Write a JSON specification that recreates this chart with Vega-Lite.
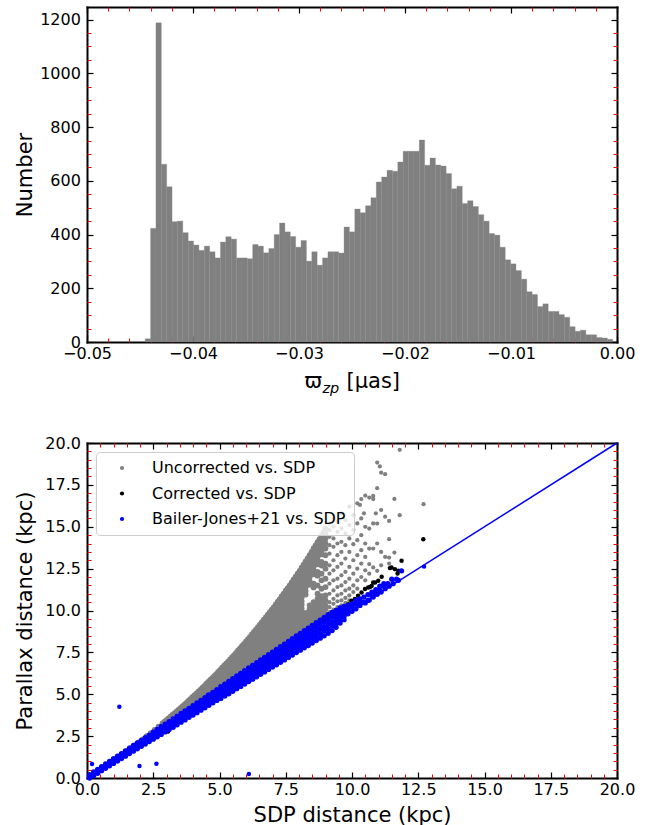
{
  "$schema": "https://vega.github.io/schema/vega-lite/v6.json",
  "background": "white",
  "padding": {"left": 14, "top": 6, "right": 5, "bottom": 0},
  "spacing": 40,
  "config": {
    "font": "DejaVu Sans",
    "view": {"stroke": null},
    "axis": {
      "labelFont": "DejaVu Sans", "labelFontSize": 16, "labelColor": "black",
      "titleFont": "DejaVu Sans", "titleFontSize": 21, "titleFontWeight": "normal", "titleColor": "black",
      "grid": false, "domain": false, "tickColor": "black", "tickSize": -6, "tickWidth": 1.2,
      "labelFlush": false, "labelOverlap": false, "zindex": 1
    }
  },
  "resolve": {"scale": {"color": "independent"}, "legend": {"color": "independent"}},
  "datasets": {
    "hist": [
      {"lo": -0.04451, "hi": -0.044003, "n": 12},
      {"lo": -0.044003, "hi": -0.043496, "n": 423},
      {"lo": -0.043496, "hi": -0.042989, "n": 1188},
      {"lo": -0.042989, "hi": -0.042482, "n": 662},
      {"lo": -0.042482, "hi": -0.041975, "n": 578},
      {"lo": -0.041975, "hi": -0.041468, "n": 448},
      {"lo": -0.041468, "hi": -0.040961, "n": 450},
      {"lo": -0.040961, "hi": -0.040454, "n": 407},
      {"lo": -0.040454, "hi": -0.039947, "n": 376},
      {"lo": -0.039947, "hi": -0.03944, "n": 361},
      {"lo": -0.03944, "hi": -0.038933, "n": 341},
      {"lo": -0.038933, "hi": -0.038426, "n": 357},
      {"lo": -0.038426, "hi": -0.037919, "n": 336},
      {"lo": -0.037919, "hi": -0.037412, "n": 313},
      {"lo": -0.037412, "hi": -0.036905, "n": 372},
      {"lo": -0.036905, "hi": -0.036398, "n": 392},
      {"lo": -0.036398, "hi": -0.035891, "n": 383},
      {"lo": -0.035891, "hi": -0.035384, "n": 313},
      {"lo": -0.035384, "hi": -0.034877, "n": 313},
      {"lo": -0.034877, "hi": -0.03437, "n": 310},
      {"lo": -0.03437, "hi": -0.033863, "n": 363},
      {"lo": -0.033863, "hi": -0.033356, "n": 357},
      {"lo": -0.033356, "hi": -0.032849, "n": 332},
      {"lo": -0.032849, "hi": -0.032342, "n": 348},
      {"lo": -0.032342, "hi": -0.031835, "n": 400},
      {"lo": -0.031835, "hi": -0.031328, "n": 443},
      {"lo": -0.031328, "hi": -0.030821, "n": 410},
      {"lo": -0.030821, "hi": -0.030314, "n": 393},
      {"lo": -0.030314, "hi": -0.029807, "n": 353},
      {"lo": -0.029807, "hi": -0.0293, "n": 378},
      {"lo": -0.0293, "hi": -0.028793, "n": 301},
      {"lo": -0.028793, "hi": -0.028286, "n": 336},
      {"lo": -0.028286, "hi": -0.027779, "n": 286},
      {"lo": -0.027779, "hi": -0.027272, "n": 313},
      {"lo": -0.027272, "hi": -0.026765, "n": 336},
      {"lo": -0.026765, "hi": -0.026258, "n": 336},
      {"lo": -0.026258, "hi": -0.025751, "n": 331},
      {"lo": -0.025751, "hi": -0.025244, "n": 428},
      {"lo": -0.025244, "hi": -0.024737, "n": 410},
      {"lo": -0.024737, "hi": -0.02423, "n": 495},
      {"lo": -0.02423, "hi": -0.023723, "n": 481},
      {"lo": -0.023723, "hi": -0.023216, "n": 507},
      {"lo": -0.023216, "hi": -0.022709, "n": 537},
      {"lo": -0.022709, "hi": -0.022202, "n": 596},
      {"lo": -0.022202, "hi": -0.021695, "n": 614},
      {"lo": -0.021695, "hi": -0.021188, "n": 639},
      {"lo": -0.021188, "hi": -0.020681, "n": 636},
      {"lo": -0.020681, "hi": -0.020174, "n": 670},
      {"lo": -0.020174, "hi": -0.019667, "n": 710},
      {"lo": -0.019667, "hi": -0.01916, "n": 710},
      {"lo": -0.01916, "hi": -0.018653, "n": 710},
      {"lo": -0.018653, "hi": -0.018146, "n": 752},
      {"lo": -0.018146, "hi": -0.017639, "n": 658},
      {"lo": -0.017639, "hi": -0.017132, "n": 685},
      {"lo": -0.017132, "hi": -0.016625, "n": 659},
      {"lo": -0.016625, "hi": -0.016118, "n": 655},
      {"lo": -0.016118, "hi": -0.015611, "n": 627},
      {"lo": -0.015611, "hi": -0.015104, "n": 570},
      {"lo": -0.015104, "hi": -0.014597, "n": 580},
      {"lo": -0.014597, "hi": -0.01409, "n": 516},
      {"lo": -0.01409, "hi": -0.013583, "n": 526},
      {"lo": -0.013583, "hi": -0.013076, "n": 504},
      {"lo": -0.013076, "hi": -0.012569, "n": 474},
      {"lo": -0.012569, "hi": -0.012062, "n": 450},
      {"lo": -0.012062, "hi": -0.011555, "n": 404},
      {"lo": -0.011555, "hi": -0.011048, "n": 398},
      {"lo": -0.011048, "hi": -0.010541, "n": 353},
      {"lo": -0.010541, "hi": -0.010034, "n": 306},
      {"lo": -0.010034, "hi": -0.009527, "n": 291},
      {"lo": -0.009527, "hi": -0.00902, "n": 266},
      {"lo": -0.00902, "hi": -0.008513, "n": 234},
      {"lo": -0.008513, "hi": -0.008006, "n": 187},
      {"lo": -0.008006, "hi": -0.007499, "n": 177},
      {"lo": -0.007499, "hi": -0.006992, "n": 132},
      {"lo": -0.006992, "hi": -0.006485, "n": 142},
      {"lo": -0.006485, "hi": -0.005978, "n": 114},
      {"lo": -0.005978, "hi": -0.005471, "n": 114},
      {"lo": -0.005471, "hi": -0.004964, "n": 102},
      {"lo": -0.004964, "hi": -0.004457, "n": 92},
      {"lo": -0.004457, "hi": -0.00395, "n": 57},
      {"lo": -0.00395, "hi": -0.003443, "n": 40},
      {"lo": -0.003443, "hi": -0.002936, "n": 44},
      {"lo": -0.002936, "hi": -0.002429, "n": 27},
      {"lo": -0.002429, "hi": -0.001922, "n": 27},
      {"lo": -0.001922, "hi": -0.001415, "n": 17},
      {"lo": -0.001415, "hi": -0.000908, "n": 15},
      {"lo": -0.000908, "hi": -0.000401, "n": 10}
    ],
    "diag": [{"d": 0}, {"d": 20}],
    "grayDense": [
      {"x":0.3,"y":0.31},{"x":0.45,"y":0.46},{"x":0.6,"y":0.62},{"x":0.75,"y":0.78},{"x":0.9,"y":0.94},
      {"x":1.05,"y":1.1},{"x":1.2,"y":1.27},{"x":1.35,"y":1.43},{"x":1.5,"y":1.6},{"x":1.65,"y":1.78},
      {"x":1.8,"y":1.95},{"x":1.8,"y":1.87},{"x":1.95,"y":2.13},{"x":1.95,"y":2.03},{"x":2.1,"y":2.31},{"x":2.1,"y":2.2},
      {"x":2.25,"y":2.5},{"x":2.25,"y":2.36},{"x":2.4,"y":2.68},{"x":2.4,"y":2.52},{"x":2.55,"y":2.87},{"x":2.55,"y":2.7},
      {"x":2.7,"y":3.06},{"x":2.7,"y":2.88},{"x":2.85,"y":3.26},{"x":2.85,"y":3.06},{"x":2.85,"y":2.96},
      {"x":3.0,"y":3.46},{"x":3.0,"y":3.26},{"x":3.0,"y":3.12},{"x":3.15,"y":3.66},{"x":3.15,"y":3.46},{"x":3.15,"y":3.28},
      {"x":3.3,"y":3.86},{"x":3.3,"y":3.64},{"x":3.3,"y":3.45},{"x":3.45,"y":4.07},{"x":3.45,"y":3.85},{"x":3.45,"y":3.63},
      {"x":3.6,"y":4.28},{"x":3.6,"y":4.06},{"x":3.6,"y":3.84},
      {"x":3.75,"y":4.49},{"x":3.75,"y":4.27},{"x":3.75,"y":4.05},{"x":3.75,"y":3.9},
      {"x":3.9,"y":4.71},{"x":3.9,"y":4.49},{"x":3.9,"y":4.27},{"x":3.9,"y":4.07},
      {"x":4.05,"y":4.93},{"x":4.05,"y":4.71},{"x":4.05,"y":4.49},{"x":4.05,"y":4.27},
      {"x":4.2,"y":5.15},{"x":4.2,"y":4.93},{"x":4.2,"y":4.71},{"x":4.2,"y":4.49},{"x":4.2,"y":4.38},
      {"x":4.35,"y":5.38},{"x":4.35,"y":5.16},{"x":4.35,"y":4.94},{"x":4.35,"y":4.72},{"x":4.35,"y":4.54},
      {"x":4.5,"y":5.61},{"x":4.5,"y":5.39},{"x":4.5,"y":5.17},{"x":4.5,"y":4.95},{"x":4.5,"y":4.73},
      {"x":4.65,"y":5.85},{"x":4.65,"y":5.63},{"x":4.65,"y":5.41},{"x":4.65,"y":5.19},{"x":4.65,"y":4.97},{"x":4.65,"y":4.83},
      {"x":4.8,"y":6.08},{"x":4.8,"y":5.86},{"x":4.8,"y":5.64},{"x":4.8,"y":5.42},{"x":4.8,"y":5.2},{"x":4.8,"y":5.0},
      {"x":4.95,"y":6.33},{"x":4.95,"y":6.11},{"x":4.95,"y":5.89},{"x":4.95,"y":5.67},{"x":4.95,"y":5.45},{"x":4.95,"y":5.23},{"x":4.95,"y":5.12},
      {"x":5.1,"y":6.58},{"x":5.1,"y":6.36},{"x":5.1,"y":6.14},{"x":5.1,"y":5.92},{"x":5.1,"y":5.7},{"x":5.1,"y":5.48},{"x":5.1,"y":5.28},
      {"x":5.25,"y":6.83},{"x":5.25,"y":6.61},{"x":5.25,"y":6.39},{"x":5.25,"y":6.17},{"x":5.25,"y":5.95},{"x":5.25,"y":5.73},{"x":5.25,"y":5.5},
      {"x":5.4,"y":7.08},{"x":5.4,"y":6.86},{"x":5.4,"y":6.64},{"x":5.4,"y":6.42},{"x":5.4,"y":6.2},{"x":5.4,"y":5.98},{"x":5.4,"y":5.76},{"x":5.4,"y":5.62},
      {"x":5.55,"y":7.34},{"x":5.55,"y":7.12},{"x":5.55,"y":6.9},{"x":5.55,"y":6.68},{"x":5.55,"y":6.46},{"x":5.55,"y":6.24},{"x":5.55,"y":6.02},{"x":5.55,"y":5.8},
      {"x":5.7,"y":7.61},{"x":5.7,"y":7.39},{"x":5.7,"y":7.17},{"x":5.7,"y":6.95},{"x":5.7,"y":6.73},{"x":5.7,"y":6.51},{"x":5.7,"y":6.29},{"x":5.7,"y":6.07},{"x":5.7,"y":5.92},
      {"x":5.85,"y":7.88},{"x":5.85,"y":7.66},{"x":5.85,"y":7.44},{"x":5.85,"y":7.22},{"x":5.85,"y":7.0},{"x":5.85,"y":6.78},{"x":5.85,"y":6.56},{"x":5.85,"y":6.34},{"x":5.85,"y":6.12},
      {"x":6.0,"y":8.15},{"x":6.0,"y":7.93},{"x":6.0,"y":7.71},{"x":6.0,"y":7.49},{"x":6.0,"y":7.27},{"x":6.0,"y":7.05},{"x":6.0,"y":6.83},{"x":6.0,"y":6.61},{"x":6.0,"y":6.39},{"x":6.0,"y":6.22},
      {"x":6.15,"y":8.43},{"x":6.15,"y":8.21},{"x":6.15,"y":7.99},{"x":6.15,"y":7.77},{"x":6.15,"y":7.55},{"x":6.15,"y":7.33},{"x":6.15,"y":7.11},{"x":6.15,"y":6.89},{"x":6.15,"y":6.67},{"x":6.15,"y":6.45},
      {"x":6.3,"y":8.72},{"x":6.3,"y":8.5},{"x":6.3,"y":8.28},{"x":6.3,"y":8.06},{"x":6.3,"y":7.84},{"x":6.3,"y":7.62},{"x":6.3,"y":7.4},{"x":6.3,"y":7.18},{"x":6.3,"y":6.96},{"x":6.3,"y":6.74},{"x":6.3,"y":6.55},
      {"x":6.45,"y":9.0},{"x":6.45,"y":8.78},{"x":6.45,"y":8.56},{"x":6.45,"y":8.34},{"x":6.45,"y":8.12},{"x":6.45,"y":7.9},{"x":6.45,"y":7.68},{"x":6.45,"y":7.46},{"x":6.45,"y":7.24},{"x":6.45,"y":7.02},{"x":6.45,"y":6.8},
      {"x":6.6,"y":9.3},{"x":6.6,"y":9.08},{"x":6.6,"y":8.86},{"x":6.6,"y":8.64},{"x":6.6,"y":8.42},{"x":6.6,"y":8.2},{"x":6.6,"y":7.98},{"x":6.6,"y":7.76},{"x":6.6,"y":7.54},{"x":6.6,"y":7.32},{"x":6.6,"y":7.1},{"x":6.6,"y":6.9},
      {"x":6.75,"y":9.6},{"x":6.75,"y":9.38},{"x":6.75,"y":9.16},{"x":6.75,"y":8.94},{"x":6.75,"y":8.72},{"x":6.75,"y":8.5},{"x":6.75,"y":8.28},{"x":6.75,"y":8.06},{"x":6.75,"y":7.84},{"x":6.75,"y":7.62},{"x":6.75,"y":7.4},{"x":6.75,"y":7.15},
      {"x":6.9,"y":9.9},{"x":6.9,"y":9.68},{"x":6.9,"y":9.46},{"x":6.9,"y":9.24},{"x":6.9,"y":9.02},{"x":6.9,"y":8.8},{"x":6.9,"y":8.58},{"x":6.9,"y":8.36},{"x":6.9,"y":8.14},{"x":6.9,"y":7.92},{"x":6.9,"y":7.7},{"x":6.9,"y":7.48},{"x":6.9,"y":7.25},
      {"x":7.05,"y":10.2},{"x":7.05,"y":9.98},{"x":7.05,"y":9.76},{"x":7.05,"y":9.54},{"x":7.05,"y":9.32},{"x":7.05,"y":9.1},{"x":7.05,"y":8.88},{"x":7.05,"y":8.66},{"x":7.05,"y":8.44},{"x":7.05,"y":8.22},{"x":7.05,"y":8.0},{"x":7.05,"y":7.78},{"x":7.05,"y":7.56},{"x":7.05,"y":7.4},
      {"x":7.2,"y":10.52},{"x":7.2,"y":10.3},{"x":7.2,"y":10.08},{"x":7.2,"y":9.86},{"x":7.2,"y":9.64},{"x":7.2,"y":9.42},{"x":7.2,"y":9.2},{"x":7.2,"y":8.98},{"x":7.2,"y":8.76},{"x":7.2,"y":8.54},{"x":7.2,"y":8.32},{"x":7.2,"y":8.1},{"x":7.2,"y":7.88},{"x":7.2,"y":7.62},
      {"x":7.35,"y":10.85},{"x":7.35,"y":10.63},{"x":7.35,"y":10.41},{"x":7.35,"y":10.19},{"x":7.35,"y":9.97},{"x":7.35,"y":9.75},{"x":7.35,"y":9.53},{"x":7.35,"y":9.31},{"x":7.35,"y":9.09},{"x":7.35,"y":8.87},{"x":7.35,"y":8.65},{"x":7.35,"y":8.43},{"x":7.35,"y":8.21},{"x":7.35,"y":7.99},{"x":7.35,"y":7.75},
      {"x":7.5,"y":11.18},{"x":7.5,"y":10.96},{"x":7.5,"y":10.74},{"x":7.5,"y":10.52},{"x":7.5,"y":10.3},{"x":7.5,"y":10.08},{"x":7.5,"y":9.86},{"x":7.5,"y":9.64},{"x":7.5,"y":9.42},{"x":7.5,"y":9.2},{"x":7.5,"y":8.98},{"x":7.5,"y":8.76},{"x":7.5,"y":8.54},{"x":7.5,"y":8.32},{"x":7.5,"y":8.1},{"x":7.5,"y":7.9},
      {"x":7.65,"y":11.5},{"x":7.65,"y":11.28},{"x":7.65,"y":11.06},{"x":7.65,"y":10.84},{"x":7.65,"y":10.62},{"x":7.65,"y":10.4},{"x":7.65,"y":10.18},{"x":7.65,"y":9.96},{"x":7.65,"y":9.74},{"x":7.65,"y":9.52},{"x":7.65,"y":9.3},{"x":7.65,"y":9.08},{"x":7.65,"y":8.86},{"x":7.65,"y":8.64},{"x":7.65,"y":8.42},{"x":7.65,"y":8.2},{"x":7.65,"y":8.05},
      {"x":7.8,"y":11.85},{"x":7.8,"y":11.63},{"x":7.8,"y":11.41},{"x":7.8,"y":11.19},{"x":7.8,"y":10.97},{"x":7.8,"y":10.75},{"x":7.8,"y":10.53},{"x":7.8,"y":10.31},{"x":7.8,"y":10.09},{"x":7.8,"y":9.87},{"x":7.8,"y":9.65},{"x":7.8,"y":9.43},{"x":7.8,"y":9.21},{"x":7.8,"y":8.99},{"x":7.8,"y":8.77},{"x":7.8,"y":8.55},{"x":7.8,"y":8.33},{"x":7.8,"y":8.18},
      {"x":7.95,"y":12.2},{"x":7.95,"y":11.98},{"x":7.95,"y":11.76},{"x":7.95,"y":11.54},{"x":7.95,"y":11.32},{"x":7.95,"y":11.1},{"x":7.95,"y":10.88},{"x":7.95,"y":10.66},{"x":7.95,"y":10.44},{"x":7.95,"y":10.22},{"x":7.95,"y":10.0},{"x":7.95,"y":9.78},{"x":7.95,"y":9.56},{"x":7.95,"y":9.34},{"x":7.95,"y":9.12},{"x":7.95,"y":8.9},{"x":7.95,"y":8.68},{"x":7.95,"y":8.46},{"x":7.95,"y":8.32},
      {"x":8.1,"y":12.55},{"x":8.1,"y":12.33},{"x":8.1,"y":12.11},{"x":8.1,"y":11.89},{"x":8.1,"y":11.67},{"x":8.1,"y":11.45},{"x":8.1,"y":11.23},{"x":8.1,"y":11.01},{"x":8.1,"y":10.79},{"x":8.1,"y":10.57},{"x":8.1,"y":10.35},{"x":8.1,"y":10.13},{"x":8.1,"y":9.91},{"x":8.1,"y":9.69},{"x":8.1,"y":9.47},{"x":8.1,"y":9.25},{"x":8.1,"y":9.03},{"x":8.1,"y":8.81},{"x":8.1,"y":8.6},
      {"x":8.25,"y":12.93},{"x":8.25,"y":12.71},{"x":8.25,"y":12.49},{"x":8.25,"y":12.27},{"x":8.25,"y":12.05},{"x":8.25,"y":11.83},{"x":8.25,"y":11.61},{"x":8.25,"y":11.39},{"x":8.25,"y":11.17},{"x":8.25,"y":10.95},{"x":8.25,"y":9.85},{"x":8.25,"y":9.63},{"x":8.25,"y":9.41},{"x":8.25,"y":9.19},{"x":8.25,"y":8.97},{"x":8.25,"y":8.75},
      {"x":8.4,"y":13.3},{"x":8.4,"y":13.08},{"x":8.4,"y":12.86},{"x":8.4,"y":12.64},{"x":8.4,"y":12.42},{"x":8.4,"y":12.2},{"x":8.4,"y":11.98},{"x":8.4,"y":11.76},{"x":8.4,"y":11.54},{"x":8.4,"y":10.3},{"x":8.4,"y":10.08},{"x":8.4,"y":9.86},{"x":8.4,"y":9.64},{"x":8.4,"y":9.42},{"x":8.4,"y":9.2},{"x":8.4,"y":8.95},
      {"x":8.55,"y":13.7},{"x":8.55,"y":13.48},{"x":8.55,"y":13.26},{"x":8.55,"y":13.04},{"x":8.55,"y":12.82},{"x":8.55,"y":12.6},{"x":8.55,"y":12.38},{"x":8.55,"y":12.16},{"x":8.55,"y":11.6},{"x":8.55,"y":11.38},{"x":8.55,"y":10.5},{"x":8.55,"y":10.28},{"x":8.55,"y":10.06},{"x":8.55,"y":9.84},{"x":8.55,"y":9.62},{"x":8.55,"y":9.4},{"x":8.55,"y":9.15},
      {"x":8.7,"y":14.08},{"x":8.7,"y":13.86},{"x":8.7,"y":13.64},{"x":8.7,"y":13.42},{"x":8.7,"y":13.2},{"x":8.7,"y":12.98},{"x":8.7,"y":12.76},{"x":8.7,"y":12.3},{"x":8.7,"y":12.08},{"x":8.7,"y":11.5},{"x":8.7,"y":11.0},{"x":8.7,"y":10.7},{"x":8.7,"y":10.48},{"x":8.7,"y":10.26},{"x":8.7,"y":10.04},{"x":8.7,"y":9.82},{"x":8.7,"y":9.6},{"x":8.7,"y":9.35},
      {"x":8.85,"y":14.45},{"x":8.85,"y":14.23},{"x":8.85,"y":14.01},{"x":8.85,"y":13.79},{"x":8.85,"y":13.57},{"x":8.85,"y":13.35},{"x":8.85,"y":12.9},{"x":8.85,"y":12.68},{"x":8.85,"y":12.2},{"x":8.85,"y":11.8},{"x":8.85,"y":11.3},{"x":8.85,"y":10.85},{"x":8.85,"y":10.63},{"x":8.85,"y":10.41},{"x":8.85,"y":10.19},{"x":8.85,"y":9.97},{"x":8.85,"y":9.75},{"x":8.85,"y":9.5},
      {"x":9.0,"y":14.88},{"x":9.0,"y":14.6},{"x":9.0,"y":14.3},{"x":9.0,"y":14.0},{"x":9.0,"y":13.7},{"x":9.0,"y":13.3},{"x":9.0,"y":12.8},{"x":9.0,"y":12.5},{"x":9.0,"y":11.9},{"x":9.0,"y":11.4},{"x":9.0,"y":10.9},{"x":9.0,"y":10.6},{"x":9.0,"y":10.3},{"x":9.0,"y":10.1},{"x":9.0,"y":9.8},{"x":9.0,"y":9.6},
      {"x":2.925,"y":3.36},{"x":3.075,"y":3.56},{"x":3.225,"y":3.76},{"x":3.375,"y":3.96},{"x":3.525,"y":4.17},{"x":3.675,"y":4.38},
      {"x":3.825,"y":4.6},{"x":3.975,"y":4.82},{"x":4.125,"y":5.04},{"x":4.275,"y":5.26},{"x":4.425,"y":5.49},{"x":4.575,"y":5.73},
      {"x":4.725,"y":5.96},{"x":4.875,"y":6.2},{"x":5.025,"y":6.45},{"x":5.175,"y":6.7},{"x":5.325,"y":6.95},{"x":5.475,"y":7.21},
      {"x":5.625,"y":7.47},{"x":5.775,"y":7.74},{"x":5.925,"y":8.01},{"x":6.075,"y":8.29},{"x":6.225,"y":8.57},{"x":6.375,"y":8.86},
      {"x":6.525,"y":9.15},{"x":6.675,"y":9.45},{"x":6.825,"y":9.75},{"x":6.975,"y":10.05},{"x":7.125,"y":10.36},{"x":7.275,"y":10.68},
      {"x":7.425,"y":11.01},{"x":7.575,"y":11.34},{"x":7.725,"y":11.67},{"x":7.875,"y":12.02},{"x":8.025,"y":12.37},{"x":8.175,"y":12.74},
      {"x":8.325,"y":13.11},{"x":8.475,"y":13.5},{"x":8.625,"y":13.89},{"x":8.775,"y":14.26},{"x":8.925,"y":14.66}
    ],
    "graySparse": [
      {"x":9.15,"y":15.2},{"x":9.15,"y":14.8},{"x":9.15,"y":14.4},{"x":9.15,"y":13.9},{"x":9.15,"y":13.4},{"x":9.15,"y":12.7},{"x":9.15,"y":12.2},{"x":9.15,"y":11.6},{"x":9.15,"y":11.0},{"x":9.15,"y":10.5},{"x":9.15,"y":10.2},{"x":9.15,"y":9.9},
      {"x":9.3,"y":15.5},{"x":9.3,"y":15.0},{"x":9.3,"y":14.3},{"x":9.3,"y":13.8},{"x":9.3,"y":13.0},{"x":9.3,"y":12.4},{"x":9.3,"y":11.8},{"x":9.3,"y":11.2},{"x":9.3,"y":10.7},{"x":9.3,"y":10.4},{"x":9.3,"y":10.05},
      {"x":9.45,"y":15.3},{"x":9.45,"y":14.7},{"x":9.45,"y":14.0},{"x":9.45,"y":13.3},{"x":9.45,"y":12.6},{"x":9.45,"y":11.9},{"x":9.45,"y":11.4},{"x":9.45,"y":10.9},{"x":9.45,"y":10.55},{"x":9.45,"y":10.2},
      {"x":9.6,"y":15.8},{"x":9.6,"y":14.9},{"x":9.6,"y":14.1},{"x":9.6,"y":13.5},{"x":9.6,"y":12.8},{"x":9.6,"y":12.1},{"x":9.6,"y":11.5},{"x":9.6,"y":11.0},{"x":9.6,"y":10.6},{"x":9.6,"y":10.3},
      {"x":9.75,"y":15.4},{"x":9.75,"y":14.6},{"x":9.75,"y":13.9},{"x":9.75,"y":13.1},{"x":9.75,"y":12.3},{"x":9.75,"y":11.7},{"x":9.75,"y":11.2},{"x":9.75,"y":10.75},{"x":9.75,"y":10.45},
      {"x":9.9,"y":16.2},{"x":9.9,"y":15.1},{"x":9.9,"y":14.3},{"x":9.9,"y":13.5},{"x":9.9,"y":12.6},{"x":9.9,"y":11.9},{"x":9.9,"y":11.3},{"x":9.9,"y":10.9},{"x":9.9,"y":10.6},
      {"x":10.05,"y":15.7},{"x":10.05,"y":14.8},{"x":10.05,"y":13.96},{"x":10.05,"y":13.0},{"x":10.05,"y":12.2},{"x":10.05,"y":11.5},{"x":10.05,"y":11.1},
      {"x":10.2,"y":16.4},{"x":10.2,"y":15.2},{"x":10.2,"y":14.2},{"x":10.2,"y":13.3},{"x":10.2,"y":12.5},{"x":10.2,"y":11.8},{"x":10.2,"y":11.3},
      {"x":10.35,"y":16.65},{"x":10.35,"y":15.5},{"x":10.35,"y":14.5},{"x":10.35,"y":13.6},{"x":10.35,"y":12.8},{"x":10.35,"y":12.0},
      {"x":10.5,"y":16.86},{"x":10.5,"y":15.0},{"x":10.5,"y":14.0},{"x":10.5,"y":13.2},{"x":10.5,"y":12.4},{"x":10.5,"y":11.8},
      {"x":10.65,"y":16.74},{"x":10.65,"y":14.89},{"x":10.65,"y":13.7},{"x":10.65,"y":12.77},{"x":10.65,"y":12.2},
      {"x":10.8,"y":16.84},{"x":10.8,"y":16.65},{"x":10.8,"y":15.2},{"x":10.8,"y":13.7},{"x":10.8,"y":12.57},
      {"x":10.95,"y":18.83},{"x":10.95,"y":17.3},{"x":10.95,"y":15.19},{"x":10.95,"y":14.0},{"x":10.95,"y":12.37},
      {"x":11.1,"y":18.23},{"x":11.1,"y":16.0},{"x":11.1,"y":13.5},{"x":11.1,"y":12.7},
      {"x":11.25,"y":18.14},{"x":11.25,"y":15.6},{"x":11.25,"y":13.2},
      {"x":11.4,"y":15.35},{"x":11.4,"y":14.26},{"x":11.4,"y":13.16},{"x":11.4,"y":12.8},
      {"x":11.6,"y":16.66},{"x":11.6,"y":13.46},{"x":11.8,"y":19.59},{"x":11.8,"y":15.69},{"x":12.7,"y":16.35},
      {"x":11.05,"y":18.6},{"x":10.3,"y":16.3},{"x":10.45,"y":15.8},{"x":10.9,"y":15.8}
    ],
    "black": [
      {"x":2.0,"y":2.04},{"x":2.5,"y":2.55},{"x":3.0,"y":3.06},{"x":3.06,"y":2.78},{"x":3.5,"y":3.58},{"x":4.0,"y":4.1},
      {"x":4.5,"y":4.6},{"x":5.0,"y":5.12},{"x":5.5,"y":5.65},{"x":6.0,"y":6.18},{"x":6.5,"y":6.7},{"x":7.0,"y":7.24},
      {"x":7.5,"y":7.78},{"x":7.7,"y":8.05},{"x":8.0,"y":8.35},{"x":8.3,"y":8.7},{"x":8.5,"y":8.92},{"x":8.72,"y":9.25},
      {"x":8.85,"y":9.39},{"x":9.0,"y":9.5},{"x":9.15,"y":9.68},{"x":9.3,"y":9.82},{"x":9.45,"y":9.98},{"x":9.6,"y":10.1},
      {"x":9.73,"y":10.18},{"x":9.86,"y":10.38},{"x":9.98,"y":10.58},{"x":10.11,"y":10.68},{"x":10.23,"y":10.88},{"x":10.36,"y":11.07},
      {"x":10.49,"y":11.28},{"x":10.61,"y":11.37},{"x":10.68,"y":11.4},{"x":10.74,"y":11.47},{"x":10.8,"y":11.67},{"x":10.87,"y":11.67},
      {"x":10.99,"y":11.77},{"x":11.12,"y":12.01},{"x":11.43,"y":12.53},{"x":11.49,"y":12.57},{"x":11.62,"y":12.47},{"x":11.72,"y":12.21},
      {"x":11.75,"y":12.37},{"x":11.87,"y":12.97},{"x":12.69,"y":14.26}
    ],
    "blueBand": [
      {"x":0.1,"y":0.0},{"x":0.1,"y":0.1},{"x":0.1,"y":0.2},{"x":0.25,"y":0.14},{"x":0.25,"y":0.25},{"x":0.25,"y":0.36},
      {"x":0.4,"y":0.28},{"x":0.4,"y":0.4},{"x":0.4,"y":0.52},{"x":0.55,"y":0.44},{"x":0.55,"y":0.56},{"x":0.55,"y":0.68},
      {"x":0.7,"y":0.58},{"x":0.7,"y":0.71},{"x":0.7,"y":0.84},{"x":0.85,"y":0.73},{"x":0.85,"y":0.86},{"x":0.85,"y":0.99},
      {"x":1.0,"y":0.87},{"x":1.0,"y":1.01},{"x":1.0,"y":1.15},{"x":1.15,"y":1.01},{"x":1.15,"y":1.16},{"x":1.15,"y":1.31},
      {"x":1.3,"y":1.16},{"x":1.3,"y":1.31},{"x":1.3,"y":1.46},{"x":1.45,"y":1.3},{"x":1.45,"y":1.46},{"x":1.45,"y":1.62},
      {"x":1.6,"y":1.46},{"x":1.6,"y":1.62},{"x":1.6,"y":1.78},{"x":1.75,"y":1.6},{"x":1.75,"y":1.77},{"x":1.75,"y":1.94},
      {"x":1.9,"y":1.74},{"x":1.9,"y":1.92},{"x":1.9,"y":2.1},{"x":2.05,"y":1.89},{"x":2.05,"y":2.07},{"x":2.05,"y":2.25},
      {"x":2.2,"y":2.03},{"x":2.2,"y":2.22},{"x":2.2,"y":2.41},{"x":2.35,"y":2.18},{"x":2.35,"y":2.37},{"x":2.35,"y":2.56},
      {"x":2.5,"y":2.32},{"x":2.5,"y":2.46},{"x":2.5,"y":2.6},{"x":2.5,"y":2.74},
      {"x":2.65,"y":2.46},{"x":2.65,"y":2.61},{"x":2.65,"y":2.75},{"x":2.65,"y":2.9},
      {"x":2.8,"y":2.6},{"x":2.8,"y":2.75},{"x":2.8,"y":2.91},{"x":2.8,"y":3.06},
      {"x":2.95,"y":2.75},{"x":2.95,"y":2.9},{"x":2.95,"y":3.06},{"x":2.95,"y":3.21},
      {"x":3.1,"y":2.89},{"x":3.1,"y":3.05},{"x":3.1,"y":3.21},{"x":3.1,"y":3.37},
      {"x":3.25,"y":3.03},{"x":3.25,"y":3.2},{"x":3.25,"y":3.36},{"x":3.25,"y":3.53},
      {"x":3.4,"y":3.18},{"x":3.4,"y":3.35},{"x":3.4,"y":3.51},{"x":3.4,"y":3.68},
      {"x":3.55,"y":3.33},{"x":3.55,"y":3.5},{"x":3.55,"y":3.68},{"x":3.55,"y":3.85},
      {"x":3.7,"y":3.47},{"x":3.7,"y":3.65},{"x":3.7,"y":3.83},{"x":3.7,"y":4.01},
      {"x":3.85,"y":3.62},{"x":3.85,"y":3.8},{"x":3.85,"y":3.98},{"x":3.85,"y":4.16},
      {"x":4.0,"y":3.76},{"x":4.0,"y":3.95},{"x":4.0,"y":4.13},{"x":4.0,"y":4.32},
      {"x":4.15,"y":3.9},{"x":4.15,"y":4.09},{"x":4.15,"y":4.29},{"x":4.15,"y":4.48},
      {"x":4.3,"y":4.05},{"x":4.3,"y":4.24},{"x":4.3,"y":4.44},{"x":4.3,"y":4.63},
      {"x":4.45,"y":4.19},{"x":4.45,"y":4.39},{"x":4.45,"y":4.59},{"x":4.45,"y":4.79},
      {"x":4.6,"y":4.34},{"x":4.6,"y":4.55},{"x":4.6,"y":4.75},{"x":4.6,"y":4.96},
      {"x":4.75,"y":4.49},{"x":4.75,"y":4.7},{"x":4.75,"y":4.9},{"x":4.75,"y":5.11},
      {"x":4.9,"y":4.63},{"x":4.9,"y":4.84},{"x":4.9,"y":5.06},{"x":4.9,"y":5.27},
      {"x":5.05,"y":4.75},{"x":5.05,"y":4.92},{"x":5.05,"y":5.1},{"x":5.05,"y":5.28},{"x":5.05,"y":5.45},
      {"x":5.2,"y":4.89},{"x":5.2,"y":5.07},{"x":5.2,"y":5.25},{"x":5.2,"y":5.43},{"x":5.2,"y":5.61},
      {"x":5.35,"y":5.03},{"x":5.35,"y":5.22},{"x":5.35,"y":5.4},{"x":5.35,"y":5.58},{"x":5.35,"y":5.77},
      {"x":5.5,"y":5.18},{"x":5.5,"y":5.37},{"x":5.5,"y":5.56},{"x":5.5,"y":5.75},{"x":5.5,"y":5.93},
      {"x":5.65,"y":5.33},{"x":5.65,"y":5.52},{"x":5.65,"y":5.71},{"x":5.65,"y":5.9},{"x":5.65,"y":6.09},
      {"x":5.8,"y":5.47},{"x":5.8,"y":5.66},{"x":5.8,"y":5.86},{"x":5.8,"y":6.05},{"x":5.8,"y":6.25},
      {"x":5.95,"y":5.61},{"x":5.95,"y":5.81},{"x":5.95,"y":6.01},{"x":5.95,"y":6.21},{"x":5.95,"y":6.41},
      {"x":6.1,"y":5.76},{"x":6.1,"y":5.96},{"x":6.1,"y":6.16},{"x":6.1,"y":6.36},{"x":6.1,"y":6.57},
      {"x":6.25,"y":5.9},{"x":6.25,"y":6.11},{"x":6.25,"y":6.31},{"x":6.25,"y":6.52},{"x":6.25,"y":6.72},
      {"x":6.4,"y":6.04},{"x":6.4,"y":6.25},{"x":6.4,"y":6.46},{"x":6.4,"y":6.67},{"x":6.4,"y":6.88},
      {"x":6.55,"y":6.19},{"x":6.55,"y":6.41},{"x":6.55,"y":6.62},{"x":6.55,"y":6.83},{"x":6.55,"y":7.05},
      {"x":6.7,"y":6.33},{"x":6.7,"y":6.55},{"x":6.7,"y":6.77},{"x":6.7,"y":6.99},{"x":6.7,"y":7.2},
      {"x":6.85,"y":6.48},{"x":6.85,"y":6.7},{"x":6.85,"y":6.92},{"x":6.85,"y":7.14},{"x":6.85,"y":7.36},
      {"x":7.0,"y":6.62},{"x":7.0,"y":6.85},{"x":7.0,"y":7.07},{"x":7.0,"y":7.3},{"x":7.0,"y":7.52},
      {"x":7.15,"y":6.76},{"x":7.15,"y":6.99},{"x":7.15,"y":7.22},{"x":7.15,"y":7.45},{"x":7.15,"y":7.68},
      {"x":7.3,"y":6.91},{"x":7.3,"y":7.14},{"x":7.3,"y":7.37},{"x":7.3,"y":7.6},{"x":7.3,"y":7.84},
      {"x":7.45,"y":7.05},{"x":7.45,"y":7.29},{"x":7.45,"y":7.52},{"x":7.45,"y":7.76},{"x":7.45,"y":7.99},
      {"x":7.6,"y":7.2},{"x":7.6,"y":7.44},{"x":7.6,"y":7.68},{"x":7.6,"y":7.92},{"x":7.6,"y":8.16},
      {"x":7.75,"y":7.34},{"x":7.75,"y":7.59},{"x":7.75,"y":7.83},{"x":7.75,"y":8.07},{"x":7.75,"y":8.32},
      {"x":7.9,"y":7.49},{"x":7.9,"y":7.73},{"x":7.9,"y":7.98},{"x":7.9,"y":8.23},{"x":7.9,"y":8.48},
      {"x":8.05,"y":7.63},{"x":8.05,"y":7.88},{"x":8.05,"y":8.13},{"x":8.05,"y":8.38},{"x":8.05,"y":8.63},
      {"x":8.2,"y":7.77},{"x":8.2,"y":8.03},{"x":8.2,"y":8.28},{"x":8.2,"y":8.54},{"x":8.2,"y":8.79},
      {"x":8.35,"y":7.91},{"x":8.35,"y":8.17},{"x":8.35,"y":8.43},{"x":8.35,"y":8.69},{"x":8.35,"y":8.95},
      {"x":8.5,"y":8.06},{"x":8.5,"y":8.33},{"x":8.5,"y":8.59},{"x":8.5,"y":8.85},{"x":8.5,"y":9.11},
      {"x":8.65,"y":8.21},{"x":8.65,"y":8.47},{"x":8.65,"y":8.74},{"x":8.65,"y":9.0},{"x":8.65,"y":9.27},
      {"x":8.8,"y":8.35},{"x":8.8,"y":8.62},{"x":8.8,"y":8.89},{"x":8.8,"y":9.16},{"x":8.8,"y":9.43},
      {"x":8.95,"y":8.49},{"x":8.95,"y":8.77},{"x":8.95,"y":9.04},{"x":8.95,"y":9.31},{"x":8.95,"y":9.59},
      {"x":9.1,"y":8.64},{"x":9.1,"y":8.91},{"x":9.1,"y":9.19},{"x":9.1,"y":9.47},{"x":9.1,"y":9.75},
      {"x":9.25,"y":8.8},{"x":9.25,"y":9.07},{"x":9.25,"y":9.34},{"x":9.25,"y":9.61},{"x":9.25,"y":9.88},
      {"x":9.4,"y":9.0},{"x":9.4,"y":9.25},{"x":9.4,"y":9.5},{"x":9.4,"y":9.75},{"x":9.4,"y":10.0},
      {"x":9.55,"y":9.25},{"x":9.55,"y":9.48},{"x":9.55,"y":9.7},{"x":9.55,"y":9.93},{"x":9.55,"y":10.15},
      {"x":9.7,"y":9.45},{"x":9.7,"y":9.65},{"x":9.7,"y":9.85},{"x":9.7,"y":10.05},{"x":9.7,"y":10.25},
      {"x":9.85,"y":9.8},{"x":9.85,"y":10.05},{"x":9.85,"y":10.3},{"x":10.0,"y":9.95},{"x":10.0,"y":10.2},{"x":10.0,"y":10.4},
      {"x":10.15,"y":10.1},{"x":10.15,"y":10.38},{"x":10.15,"y":10.6},{"x":10.3,"y":10.3},{"x":10.3,"y":10.55},{"x":10.3,"y":10.7},
      {"x":10.45,"y":10.5},{"x":10.45,"y":10.8},{"x":10.6,"y":10.6},{"x":10.6,"y":10.95},{"x":10.75,"y":10.9},{"x":10.75,"y":11.1},
      {"x":10.9,"y":11.0},{"x":10.9,"y":11.25},{"x":11.05,"y":11.2},{"x":11.05,"y":11.45},{"x":11.2,"y":11.45},{"x":11.2,"y":11.6},
      {"x":11.35,"y":11.6},{"x":11.5,"y":11.87},{"x":11.68,"y":11.87},{"x":11.87,"y":12.37},
      {"x":10.5,"y":10.45},{"x":10.65,"y":10.62},{"x":10.8,"y":10.8},{"x":10.95,"y":10.97},{"x":11.1,"y":11.1},
      {"x":11.25,"y":11.3},{"x":11.4,"y":11.45},{"x":11.55,"y":11.6},{"x":11.75,"y":11.8}
    ],
    "blueOut": [
      {"x":12.72,"y":12.62},{"x":0.19,"y":0.84},{"x":1.22,"y":4.25},{"x":1.98,"y":0.71},{"x":2.62,"y":0.85},{"x":6.11,"y":0.24},{"x":4.56,"y":4.95}
    ]
  },
  "vconcat": [
    {
      "width": 530,
      "height": 335,
      "data": {"name": "hist"},
      "resolve": {"axis": {"x": "independent", "y": "independent"}},
      "layer": [
        {
          "mark": {"type": "rect", "color": "#808080", "stroke": "#808080", "strokeWidth": 0.3},
          "encoding": {
            "x": {
              "field": "lo", "type": "quantitative",
              "scale": {"domain": [-0.05, 0], "nice": false, "zero": false},
              "axis": {
                "orient": "bottom", "values": [-0.05, -0.04, -0.03, -0.02, -0.01, 0], "format": ".2f",
                "domain": true, "domainColor": "black", "domainWidth": 2, "domainCap": "square",
                "labelPadding": 9,
                "title": "ϖ", "titleX": 217, "titleY": 45, "titleAlign": "left", "titleBaseline": "alphabetic"
              }
            },
            "x2": {"field": "hi"},
            "y": {
              "field": "n", "type": "quantitative",
              "scale": {"domain": [0, 1247], "nice": false},
              "axis": {
                "orient": "left", "values": [0, 200, 400, 600, 800, 1000, 1200], "format": "d",
                "domain": true, "domainColor": "black", "domainWidth": 2, "domainCap": "square",
                "labelPadding": 12.6, "title": "Number", "titlePadding": 4
              }
            },
            "y2": {"datum": 0}
          }
        },
        {
          "mark": {"type": "point", "opacity": 0},
          "encoding": {
            "x": {
              "field": "lo", "type": "quantitative",
              "scale": {"domain": [-0.05, 0], "nice": false, "zero": false},
              "axis": {
                "orient": "bottom",
                "values": [-0.048, -0.046, -0.044, -0.042, -0.038, -0.036, -0.034, -0.032, -0.028, -0.026, -0.024, -0.022, -0.018, -0.016, -0.014, -0.012, -0.008, -0.006, -0.004, -0.002],
                "labels": false, "tickColor": "red", "tickSize": -4, "tickWidth": 1,
                "title": "zp", "titleFontStyle": "italic", "titleFontSize": 14.5,
                "titleX": 235, "titleY": 50, "titleAlign": "left", "titleBaseline": "alphabetic"
              }
            },
            "y": {
              "field": "n", "type": "quantitative",
              "scale": {"domain": [0, 1247], "nice": false},
              "axis": {
                "orient": "left",
                "values": [50, 100, 150, 250, 300, 350, 450, 500, 550, 650, 700, 750, 850, 900, 950, 1050, 1100, 1150],
                "labels": false, "tickColor": "red", "tickSize": -4, "tickWidth": 1, "title": null
              }
            }
          }
        },
        {
          "mark": {"type": "point", "opacity": 0},
          "encoding": {
            "x": {
              "field": "lo", "type": "quantitative",
              "scale": {"domain": [-0.05, 0], "nice": false, "zero": false},
              "axis": {
                "orient": "top", "values": [-0.05, -0.04, -0.03, -0.02, -0.01, 0], "labels": false,
                "domain": true, "domainColor": "black", "domainWidth": 2, "domainCap": "square", "title": null
              }
            },
            "y": {
              "field": "n", "type": "quantitative",
              "scale": {"domain": [0, 1247], "nice": false},
              "axis": {
                "orient": "right", "values": [0, 200, 400, 600, 800, 1000, 1200], "labels": false,
                "domain": true, "domainColor": "black", "domainWidth": 2, "domainCap": "square", "title": null
              }
            }
          }
        },
        {
          "mark": {"type": "point", "opacity": 0},
          "encoding": {
            "x": {
              "field": "lo", "type": "quantitative",
              "scale": {"domain": [-0.05, 0], "nice": false, "zero": false},
              "axis": {
                "orient": "top",
                "values": [-0.048, -0.046, -0.044, -0.042, -0.038, -0.036, -0.034, -0.032, -0.028, -0.026, -0.024, -0.022, -0.018, -0.016, -0.014, -0.012, -0.008, -0.006, -0.004, -0.002],
                "labels": false, "tickColor": "red", "tickSize": -4, "tickWidth": 1, "title": null
              }
            },
            "y": {
              "field": "n", "type": "quantitative",
              "scale": {"domain": [0, 1247], "nice": false},
              "axis": {
                "orient": "right",
                "values": [50, 100, 150, 250, 300, 350, 450, 500, 550, 650, 700, 750, 850, 900, 950, 1050, 1100, 1150],
                "labels": false, "tickColor": "red", "tickSize": -4, "tickWidth": 1, "title": null
              }
            }
          }
        },
        {
          "mark": {"type": "point", "opacity": 0},
          "encoding": {
            "x": {
              "field": "lo", "type": "quantitative",
              "scale": {"domain": [-0.05, 0], "nice": false, "zero": false},
              "axis": {
                "orient": "bottom", "ticks": false, "labels": false,
                "title": "[μas]", "titleX": 259, "titleY": 45, "titleAlign": "left", "titleBaseline": "alphabetic"
              }
            },
            "y": {"field": "n", "type": "quantitative", "scale": {"domain": [0, 1247], "nice": false}, "axis": null}
          }
        }
      ]
    },
    {
      "width": 530,
      "height": 335,
      "resolve": {"axis": {"x": "independent", "y": "independent"}},
      "layer": [
        {
          "data": {"name": "diag"},
          "mark": {"type": "line", "color": "blue", "strokeWidth": 1.5},
          "encoding": {
            "x": {
              "field": "d", "type": "quantitative",
              "scale": {"domain": [0, 20], "nice": false},
              "axis": {
                "orient": "bottom", "values": [0, 2.5, 5, 7.5, 10, 12.5, 15, 17.5, 20], "format": ".1f",
                "domain": true, "domainColor": "black", "domainWidth": 2, "domainCap": "square",
                "labelPadding": 9, "title": "SDP distance (kpc)", "titlePadding": 7
              }
            },
            "y": {
              "field": "d", "type": "quantitative",
              "scale": {"domain": [0, 20], "nice": false},
              "axis": {
                "orient": "left", "values": [0, 2.5, 5, 7.5, 10, 12.5, 15, 17.5, 20], "format": ".1f",
                "domain": true, "domainColor": "black", "domainWidth": 2, "domainCap": "square",
                "labelPadding": 12.6, "title": "Parallax distance (kpc)", "titlePadding": 9
              }
            }
          }
        },
        {
          "data": {"name": "grayDense"},
          "mark": {"type": "circle", "size": 34, "opacity": 1},
          "encoding": {
            "x": {
              "field": "x", "type": "quantitative",
              "scale": {"domain": [0, 20], "nice": false},
              "axis": {
                "orient": "bottom",
                "values": [0.5, 1, 1.5, 2, 3, 3.5, 4, 4.5, 5.5, 6, 6.5, 7, 8, 8.5, 9, 9.5, 10.5, 11, 11.5, 12, 13, 13.5, 14, 14.5, 15.5, 16, 16.5, 17, 18, 18.5, 19, 19.5],
                "labels": false, "tickColor": "red", "tickSize": -4, "tickWidth": 1, "title": null
              }
            },
            "y": {
              "field": "y", "type": "quantitative",
              "scale": {"domain": [0, 20], "nice": false},
              "axis": {
                "orient": "left",
                "values": [0.5, 1, 1.5, 2, 3, 3.5, 4, 4.5, 5.5, 6, 6.5, 7, 8, 8.5, 9, 9.5, 10.5, 11, 11.5, 12, 13, 13.5, 14, 14.5, 15.5, 16, 16.5, 17, 18, 18.5, 19, 19.5],
                "labels": false, "tickColor": "red", "tickSize": -4, "tickWidth": 1, "title": null
              }
            },
            "color": {
              "datum": "Uncorrected vs. SDP", "type": "nominal",
              "scale": {
                "domain": ["Uncorrected vs. SDP", "Corrected vs. SDP", "Bailer-Jones+21 vs. SDP"],
                "range": ["#808080", "black", "blue"]
              },
              "legend": {
                "title": null, "orient": "top-left", "offset": 9,
                "labelFont": "DejaVu Sans", "labelFontSize": 16, "labelColor": "black", "labelLimit": 300,
                "symbolType": "circle", "symbolSize": 18, "symbolStrokeWidth": 0,
                "padding": 8, "rowPadding": 9.5, "labelOffset": 22, "symbolOffset": 10,
                "fillColor": "rgba(255,255,255,0.8)", "strokeColor": "#cccccc", "cornerRadius": 4
              }
            }
          }
        },
        {
          "data": {"name": "graySparse"},
          "mark": {"type": "circle", "size": 18, "opacity": 1},
          "encoding": {
            "x": {"field": "x", "type": "quantitative", "scale": {"domain": [0, 20], "nice": false}, "axis": null},
            "y": {"field": "y", "type": "quantitative", "scale": {"domain": [0, 20], "nice": false}, "axis": null},
            "color": {"datum": "Uncorrected vs. SDP", "type": "nominal"}
          }
        },
        {
          "data": {"name": "black"},
          "mark": {"type": "circle", "size": 20, "opacity": 1},
          "encoding": {
            "x": {
              "field": "x", "type": "quantitative",
              "scale": {"domain": [0, 20], "nice": false},
              "axis": {
                "orient": "top", "values": [0, 2.5, 5, 7.5, 10, 12.5, 15, 17.5, 20], "labels": false,
                "domain": true, "domainColor": "black", "domainWidth": 2, "domainCap": "square", "title": null
              }
            },
            "y": {
              "field": "y", "type": "quantitative",
              "scale": {"domain": [0, 20], "nice": false},
              "axis": {
                "orient": "right", "values": [0, 2.5, 5, 7.5, 10, 12.5, 15, 17.5, 20], "labels": false,
                "domain": true, "domainColor": "black", "domainWidth": 2, "domainCap": "square", "title": null
              }
            },
            "color": {"datum": "Corrected vs. SDP", "type": "nominal"}
          }
        },
        {
          "data": {"name": "blueBand"},
          "mark": {"type": "circle", "size": 28, "opacity": 1},
          "encoding": {
            "x": {
              "field": "x", "type": "quantitative",
              "scale": {"domain": [0, 20], "nice": false},
              "axis": {
                "orient": "top",
                "values": [0.5, 1, 1.5, 2, 3, 3.5, 4, 4.5, 5.5, 6, 6.5, 7, 8, 8.5, 9, 9.5, 10.5, 11, 11.5, 12, 13, 13.5, 14, 14.5, 15.5, 16, 16.5, 17, 18, 18.5, 19, 19.5],
                "labels": false, "tickColor": "red", "tickSize": -4, "tickWidth": 1, "title": null
              }
            },
            "y": {
              "field": "y", "type": "quantitative",
              "scale": {"domain": [0, 20], "nice": false},
              "axis": {
                "orient": "right",
                "values": [0.5, 1, 1.5, 2, 3, 3.5, 4, 4.5, 5.5, 6, 6.5, 7, 8, 8.5, 9, 9.5, 10.5, 11, 11.5, 12, 13, 13.5, 14, 14.5, 15.5, 16, 16.5, 17, 18, 18.5, 19, 19.5],
                "labels": false, "tickColor": "red", "tickSize": -4, "tickWidth": 1, "title": null
              }
            },
            "color": {"datum": "Bailer-Jones+21 vs. SDP", "type": "nominal"}
          }
        },
        {
          "data": {"name": "blueOut"},
          "mark": {"type": "circle", "size": 20, "opacity": 1},
          "encoding": {
            "x": {"field": "x", "type": "quantitative", "scale": {"domain": [0, 20], "nice": false}, "axis": null},
            "y": {"field": "y", "type": "quantitative", "scale": {"domain": [0, 20], "nice": false}, "axis": null},
            "color": {"datum": "Bailer-Jones+21 vs. SDP", "type": "nominal"}
          }
        }
      ]
    }
  ]
}
